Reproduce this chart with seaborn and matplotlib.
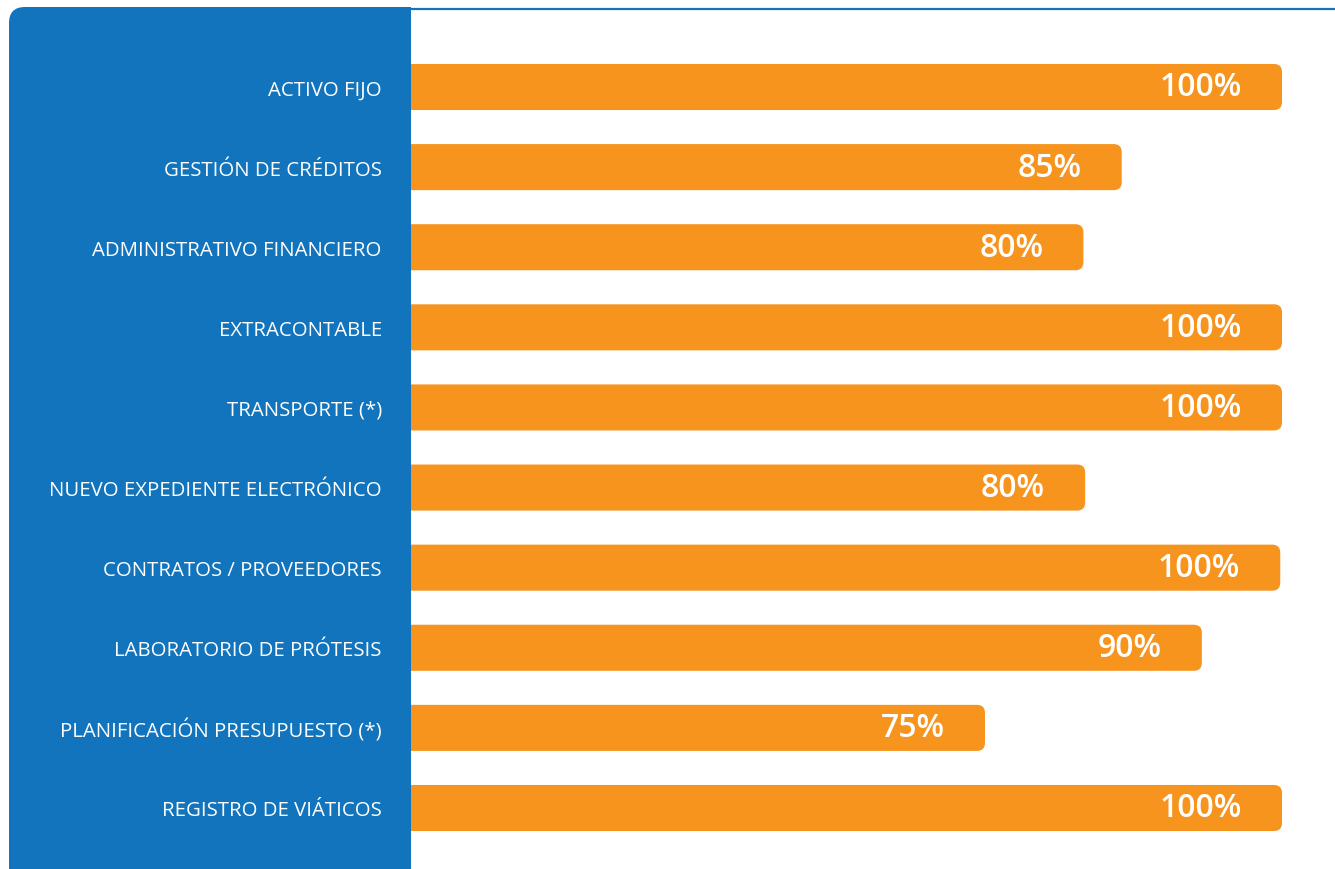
import matplotlib
matplotlib.use("Agg")
import matplotlib.pyplot as plt
from matplotlib.patches import FancyBboxPatch, Rectangle
from matplotlib.lines import Line2D
import seaborn as sns
import pandas as pd

# data
modules = [
    "ACTIVO FIJO",
    "GESTIÓN DE CRÉDITOS",
    "ADMINISTRATIVO FINANCIERO",
    "EXTRACONTABLE",
    "TRANSPORTE (*)",
    "NUEVO EXPEDIENTE ELECTRÓNICO",
    "CONTRATOS / PROVEEDORES",
    "LABORATORIO DE PRÓTESIS",
    "PLANIFICACIÓN PRESUPUESTO (*)",
    "REGISTRO DE VIÁTICOS",
]
progress_labels = [100, 85, 80, 100, 100, 80, 100, 90, 75, 100]
# drawn bar lengths as measured on the picture (percent of the full bar)
bar_lengths = [100, 81.6, 77.2, 100, 100, 77.4, 99.8, 90.8, 65.9, 100]

BLUE = "#1174BC"
ORANGE = "#F7941E"

df = pd.DataFrame({"module": modules, "length": bar_lengths, "label": progress_labels})

sns.set_theme(style="white")
plt.rcParams["font.family"] = ["Open Sans", "DejaVu Sans"]

W, H = 1335, 870
fig = plt.figure(figsize=(W / 100, H / 100), dpi=100)
fig.patch.set_facecolor("white")

# blue side panel, only the top-left corner rounded
panel = FancyBboxPatch((9 / W, -20 / H), (411 - 9) / W, (H - 8 + 20) / H,
                       boxstyle="round,pad=0,rounding_size=0.012",
                       transform=fig.transFigure, facecolor=BLUE,
                       edgecolor="none", mutation_aspect=W / H, zorder=-2)
fig.patches.append(panel)
fig.patches.append(Rectangle((200 / W, 0), (411 - 200) / W, 1 - 8 / H,
                             transform=fig.transFigure, facecolor=BLUE,
                             edgecolor="none", zorder=-2))
fig.lines.append(Line2D([411 / W, 1.0], [1 - 9.5 / H, 1 - 9.5 / H],
                        transform=fig.transFigure, color=BLUE, lw=1.6))

ax = fig.add_axes([411 / W, 0, (W - 411) / W, 1 - 10 / H])
ax.set_facecolor("none")

sns.barplot(data=df, y="module", x="length", orient="h", color=ORANGE,
            width=0.575, ax=ax)

px_x = 871 / 100          # pixels per x unit
px_y = 721 / 9            # pixels per category
ax.set_xlim(0, (W - 411) / px_x)
ax.set_ylim(9 + (870 - 809) / px_y, -(88 - 10) / px_y)

# swap plain bars for bars with rounded right end
for patch in list(ax.patches):
    x0, y0 = patch.get_x(), patch.get_y()
    w, h = patch.get_width(), patch.get_height()
    patch.set_visible(False)
    r = 8 / px_x
    box = FancyBboxPatch((x0 - 3, y0), w + 3, h,
                         boxstyle=f"round,pad=0,rounding_size={r}",
                         mutation_aspect=(px_x / px_y),
                         facecolor=ORANGE, edgecolor="none", zorder=2)
    ax.add_patch(box)

for i, (length, lab) in enumerate(zip(bar_lengths, progress_labels)):
    ax.text(length - 40 / px_x, i, f"{lab}%", ha="right", va="center",
            color="white", fontsize=23, fontweight="semibold", zorder=3)

ax.set_xlabel("")
ax.set_ylabel("")
ax.set_xticks([])
ax.tick_params(axis="y", length=0, pad=21, labelsize=14.7, colors="white")
for s in ax.spines.values():
    s.set_visible(False)

fig.savefig("out.png", dpi=100, facecolor="white")
